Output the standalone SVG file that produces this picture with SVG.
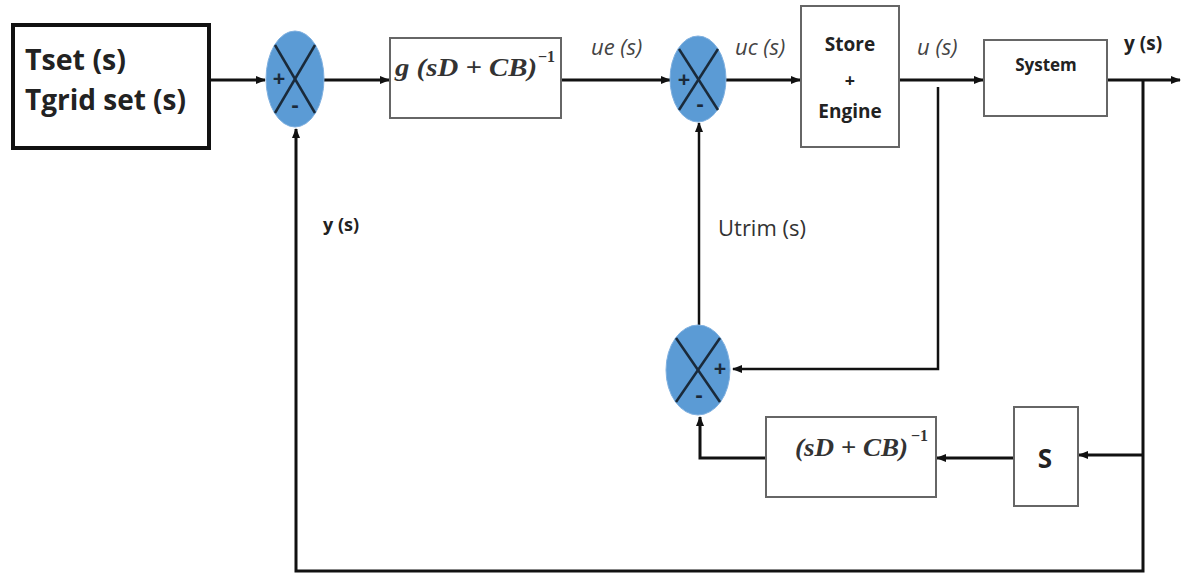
<svg xmlns="http://www.w3.org/2000/svg" width="1190" height="575" viewBox="0 0 1190 575">
<defs>
<marker id="ah" markerWidth="10" markerHeight="8" refX="9" refY="4" orient="auto" markerUnits="userSpaceOnUse">
<path d="M0,0 L10,4 L0,8 Z" fill="#111"/>
</marker>
<style>
.w{stroke:#111;stroke-width:3;fill:none}
.wt{stroke:#111;stroke-width:2.5;fill:none}
.blk{fill:#fff;stroke:#666;stroke-width:2}
.sum{fill:#5b9bd5;stroke:#7fb0e0;stroke-width:1}
.x{stroke:#1a2a3a;stroke-width:2.5}
.sg{font-family:"Open Sans","Liberation Sans",sans-serif;font-weight:bold;fill:#1a2a3a;font-size:22px;text-anchor:middle}
.lb{font-family:"Open Sans","Liberation Sans",sans-serif;font-weight:bold;fill:#222}
.it{font-family:"Open Sans","Liberation Sans",sans-serif;font-style:italic;fill:#444;font-size:22px}
.m{font-family:"Liberation Serif","DejaVu Serif",serif;font-style:italic;font-weight:bold;fill:#333}
.sup{font-family:"Liberation Serif","DejaVu Serif",serif;font-weight:bold;fill:#333;font-size:16px}
</style>
</defs>
<rect width="1190" height="575" fill="#fff"/>
<g id="connectors">
<line class="w" x1="210" y1="80" x2="265" y2="80" marker-end="url(#ah)"/>
<line class="w" x1="324" y1="80" x2="389" y2="80" marker-end="url(#ah)"/>
<line class="w" x1="561" y1="80" x2="670" y2="80" marker-end="url(#ah)"/>
<line class="w" x1="726" y1="80" x2="800" y2="80" marker-end="url(#ah)"/>
<line class="w" x1="899" y1="80" x2="983" y2="80" marker-end="url(#ah)"/>
<line class="w" x1="1107" y1="80" x2="1180" y2="80" marker-end="url(#ah)"/>
<polyline class="w" points="1143,80 1143,571 296,571 296,129" marker-end="url(#ah)"/>
<polyline class="wt" points="938,87 938,369 733,369" marker-end="url(#ah)"/>
<line class="wt" x1="699" y1="325" x2="699" y2="123" marker-end="url(#ah)"/>
<line class="w" x1="1143" y1="455" x2="1079" y2="455" marker-end="url(#ah)"/>
<line class="w" x1="1014" y1="458" x2="937" y2="458" marker-end="url(#ah)"/>
<polyline class="w" points="766,458 700,458 700,417" marker-end="url(#ah)"/>
</g>
<g id="input">
<rect x="13" y="25" width="196" height="123" fill="#fff" stroke="#111" stroke-width="4"/>
<text class="lb" x="25" y="70" font-size="28" textLength="101" lengthAdjust="spacingAndGlyphs">Tset (s)</text>
<text class="lb" x="25" y="110" font-size="28" textLength="161" lengthAdjust="spacingAndGlyphs">Tgrid set (s)</text>
</g>
<g id="sum1">
<ellipse class="sum" cx="295" cy="79" rx="29" ry="48"/>
<line class="x" x1="275" y1="45" x2="315" y2="113"/>
<line class="x" x1="315" y1="45" x2="275" y2="113"/>
<text class="sg" x="279" y="86">+</text>
<text class="sg" x="295" y="112">-</text>
</g>
<g id="block-g">
<rect class="blk" x="390" y="38" width="171" height="80"/>
<text class="m" x="395" y="76" font-size="25" textLength="142" lengthAdjust="spacingAndGlyphs">g (sD + CB)</text>
<text class="sup" x="538" y="62">−1</text>
</g>
<g id="sum2">
<ellipse class="sum" cx="698" cy="79" rx="28" ry="43"/>
<line class="x" x1="679" y1="49" x2="718" y2="110"/>
<line class="x" x1="718" y1="49" x2="679" y2="110"/>
<text class="sg" x="684" y="87">+</text>
<text class="sg" x="700" y="111">-</text>
</g>
<g id="store-engine">
<rect class="blk" x="801" y="6" width="98" height="141"/>
<text class="lb" x="850" y="51" font-size="19" text-anchor="middle">Store</text>
<text class="lb" x="850" y="87" font-size="18" text-anchor="middle">+</text>
<text class="lb" x="850" y="118" font-size="19" text-anchor="middle">Engine</text>
</g>
<g id="system">
<rect class="blk" x="984" y="40" width="123" height="76"/>
<text class="lb" x="1046" y="71" font-size="17" text-anchor="middle">System</text>
</g>
<g id="sum3">
<ellipse class="sum" cx="698" cy="370" rx="32" ry="45"/>
<line class="x" x1="676" y1="338" x2="720" y2="402"/>
<line class="x" x1="720" y1="338" x2="676" y2="402"/>
<text class="sg" x="720" y="376" font-size="24">+</text>
<text class="sg" x="699" y="402">-</text>
</g>
<g id="block-inv">
<rect class="blk" x="766" y="417" width="170" height="80"/>
<text class="m" x="795" y="456" font-size="25" textLength="113" lengthAdjust="spacingAndGlyphs">(sD + CB)</text>
<text class="sup" x="911" y="441">−1</text>
</g>
<g id="block-s">
<rect class="blk" x="1014" y="407" width="64" height="99"/>
<text class="lb" x="1045" y="468" font-size="26" text-anchor="middle">S</text>
</g>
<g id="labels">
<text class="it" x="591" y="55">ue (s)</text>
<text class="it" x="735" y="55">uc (s)</text>
<text class="it" x="917" y="55">u (s)</text>
<text class="lb" x="1124" y="50" font-size="19">y (s)</text>
<text class="lb" x="323" y="231" font-size="18">y (s)</text>
<text x="718" y="236" font-family="'Open Sans','Liberation Sans',sans-serif" font-size="22" fill="#333">Utrim (s)</text>
</g>
</svg>
